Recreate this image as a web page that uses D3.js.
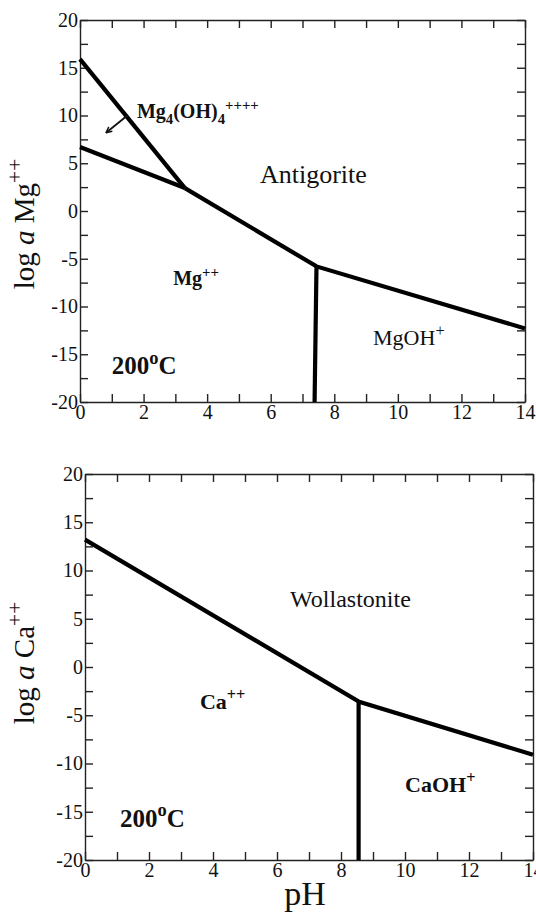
<!DOCTYPE html>
<html>
<head>
<meta charset="utf-8">
<script src="https://cdn.jsdelivr.net/npm/d3@7"></script>
<style>
  body { margin: 0; background: #fff; }
  .axis path, .axis line { stroke: #222; stroke-width: 1.4; }
</style>
</head>
<body>
<svg id="chart" width="536" height="913"></svg>
<script>
// ---- data ----
var pHMinor = d3.range(0, 15, 1);
var pHMajor = [0, 2, 4, 6, 8, 10, 12, 14];
var logMinor = d3.range(-20, 20.1, 2.5);
var logMajor = [-20, -15, -10, -5, 0, 5, 10, 15, 20];

// Mg system (200 C)
var mgHydroxyBoundary = [[0, 15.9], [3.3, 2.4]];
var mgLowBoundary = [[0, 6.7], [3.3, 2.4]];
var mgAntigoriteBoundary = [[3.3, 2.4], [7.44, -5.8], [14, -12.3]];
var mgIonBoundary = [[7.44, -5.8], [7.38, -20]];
var mgArrow = [[1.51, 10.05], [0.82, 8.2]];

// Ca system (200 C)
var caWollastoniteBoundary = [[0, 13.2], [8.57, -3.6], [14, -9.1]];
var caIonBoundary = [[8.55, -3.6], [8.55, -20]];

var serif = "'Liberation Serif', 'Times New Roman', 'DejaVu Serif', serif";

var svg = d3.select("#chart");

svg.append("defs").append("marker")
    .attr("id", "arrowhead")
    .attr("viewBox", "0 0 10 10")
    .attr("refX", 9).attr("refY", 5)
    .attr("markerWidth", 4).attr("markerHeight", 4)
    .attr("orient", "auto")
  .append("path")
    .attr("d", "M1,1 L9,5 L1,9")
    .attr("fill", "none")
    .attr("stroke", "#111")
    .attr("stroke-width", 2);

// draws a text made of parts; sub / sup parts shift the baseline
function richText(g, x, y, parts, size, bold) {
  var t = g.append("text")
      .attr("x", x).attr("y", y)
      .style("font-family", serif)
      .style("font-size", size + "px")
      .style("font-weight", bold ? "bold" : "normal")
      .attr("fill", "#111");
  var shift = 0;
  parts.forEach(function(p) {
    var want = p.sub ? size * 0.28 : p.sup ? -size * 0.42 : 0;
    var sp = t.append("tspan")
        .attr("dy", want - shift)
        .text(p.t);
    if (p.sub || p.sup) sp.style("font-size", (size * 0.74) + "px");
    if (p.italic) sp.style("font-style", "italic");
    shift = want;
  });
  return t;
}

function panel(box) {
  var g = svg.append("g").attr("transform", "translate(" + box.left + "," + box.top + ")");
  var x = d3.scaleLinear().domain([0, 14]).range([0, box.width]);
  var y = d3.scaleLinear().domain([-20, 20]).range([box.height, 0]);

  var xFmt = function(d) { return pHMajor.indexOf(d) >= 0 ? d : ""; };
  var yFmt = function(d) { return logMajor.indexOf(d) >= 0 ? d : ""; };

  g.append("g").attr("class", "axis")
    .attr("transform", "translate(0," + box.height + ")")
    .call(d3.axisBottom(x).tickValues(pHMinor).tickFormat(xFmt)
      .tickSizeInner(-8).tickSizeOuter(0).tickPadding(3));
  g.append("g").attr("class", "axis")
    .call(d3.axisTop(x).tickValues(pHMinor).tickFormat("")
      .tickSizeInner(-8).tickSizeOuter(0));
  g.append("g").attr("class", "axis")
    .call(d3.axisLeft(y).tickValues(logMinor).tickFormat(yFmt)
      .tickSizeInner(-8).tickSizeOuter(0).tickPadding(2));
  g.append("g").attr("class", "axis")
    .attr("transform", "translate(" + box.width + ",0)")
    .call(d3.axisRight(y).tickValues(logMinor).tickFormat("")
      .tickSizeInner(-8).tickSizeOuter(0));

  g.selectAll(".axis")
    .attr("font-family", serif)
    .attr("font-size", 20);
  g.selectAll(".axis text")
    .style("font-family", serif)
    .style("font-size", "20px")
    .attr("fill", "#111");

  var line = d3.line().x(function(d) { return x(d[0]); }).y(function(d) { return y(d[1]); });
  box.lines.forEach(function(pts) {
    g.append("path")
      .attr("d", line(pts))
      .attr("fill", "none")
      .attr("stroke", "#000")
      .attr("stroke-width", 4.2)
      .attr("stroke-linejoin", "miter");
  });
  if (box.arrow) {
    g.append("path")
      .attr("d", line(box.arrow))
      .attr("fill", "none")
      .attr("stroke", "#111")
      .attr("stroke-width", 1.8)
      .attr("marker-end", "url(#arrowhead)");
  }
  box.labels.forEach(function(l) {
    richText(g, x(l.at[0]), y(l.at[1]), l.parts, l.size, l.bold);
  });

  // y axis title
  richText(svg, 0, 0, box.yTitle, 29, false)
    .attr("text-anchor", "middle")
    .attr("transform", "translate(34," + box.titleY + ") rotate(-90)");
  return g;
}

panel({
  left: 80, top: 20, width: 445, height: 382,
  lines: [mgHydroxyBoundary, mgLowBoundary, mgAntigoriteBoundary, mgIonBoundary],
  arrow: mgArrow,
  labels: [
    { at: [1.79, 9.74], size: 20, bold: true,
      parts: [{t: "Mg"}, {t: "4", sub: true}, {t: "(OH)"}, {t: "4", sub: true}, {t: "++++", sup: true}] },
    { at: [5.66, 2.93], size: 26, bold: false, parts: [{t: "Antigorite"}] },
    { at: [2.93, -7.75], size: 20, bold: true, parts: [{t: "Mg"}, {t: "++", sup: true}] },
    { at: [1.0, -17.07], size: 25, bold: true, parts: [{t: "200"}, {t: "o", sup: true}, {t: "C"}] },
    { at: [9.22, -14.03], size: 22, bold: false, parts: [{t: "MgOH"}, {t: "+", sup: true}] }
  ],
  yTitle: [{t: "log "}, {t: "a", italic: true}, {t: " Mg"}, {t: "++", sup: true}],
  titleY: 224
});

panel({
  left: 85, top: 474, width: 448, height: 386,
  lines: [caWollastoniteBoundary, caIonBoundary],
  labels: [
    { at: [6.41, 6.22], size: 24, bold: false, parts: [{t: "Wollastonite"}] },
    { at: [3.59, -4.35], size: 22, bold: true, parts: [{t: "Ca"}, {t: "++", sup: true}] },
    { at: [1.09, -16.58], size: 25, bold: true, parts: [{t: "200"}, {t: "o", sup: true}, {t: "C"}] },
    { at: [10.0, -12.95], size: 22, bold: true, parts: [{t: "CaOH"}, {t: "+", sup: true}] }
  ],
  yTitle: [{t: "log "}, {t: "a", italic: true}, {t: " Ca"}, {t: "++", sup: true}],
  titleY: 663
});

svg.append("text")
  .attr("x", 305).attr("y", 905)
  .attr("text-anchor", "middle")
  .style("font-family", serif)
  .style("font-size", "34px")
  .attr("fill", "#111")
  .text("pH");
</script>
</body>
</html>
